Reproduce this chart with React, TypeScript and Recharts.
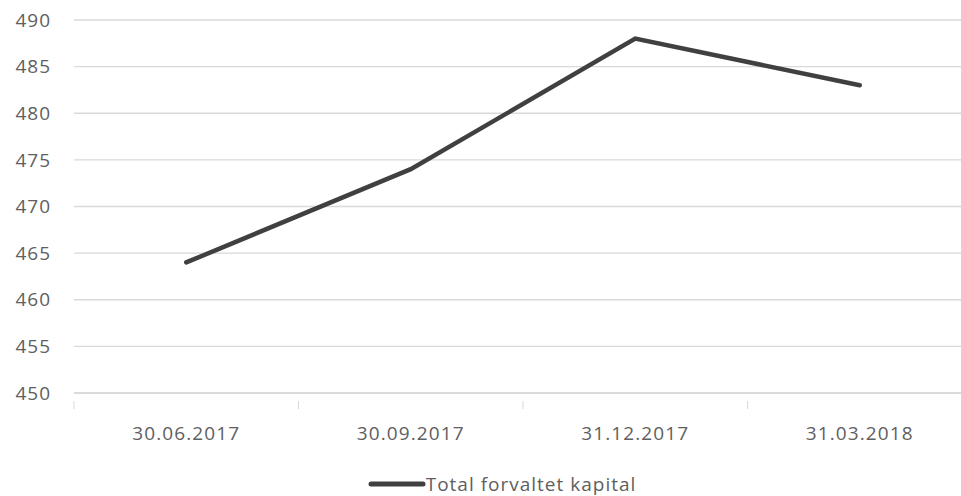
import React from 'react';
import { LineChart, Line, XAxis, YAxis, CartesianGrid, Legend } from 'recharts';

const dates = ['30.06.2017', '30.09.2017', '31.12.2017', '31.03.2018'];
const capital = [464, 474, 488, 483];
const yTicks = [450, 455, 460, 465, 470, 475, 480, 485, 490];

const data = dates.map((d, i) => ({ date: d, value: capital[i] }));

const FONT = '"Open Sans", "Noto Sans", sans-serif';
const TEXT = '#606060';
const GRID = '#d9d9d9';
const PLOT_LEFT = 74;
const PLOT_WIDTH = 898;
const BAND = PLOT_WIDTH / dates.length;

const DateTick = (props: any) => {
  const { x, y, payload, index } = props;
  const left = x - BAND / 2;
  return (
    <g>
      <line x1={left} x2={left} y1={y} y2={y + 8} stroke={GRID} strokeWidth={1} />
      {index === dates.length - 1 && (
        <line x1={left + BAND} x2={left + BAND} y1={y} y2={y + 8} stroke={GRID} strokeWidth={1} />
      )}
      <text x={x} y={y + 32} dy="0.355em" textAnchor="middle" fill={TEXT} fontSize={19} letterSpacing={1.1} fontFamily={FONT}>
        {payload.value}
      </text>
    </g>
  );
};

const LegendBox = () => (
  <div style={{ display: 'flex', justifyContent: 'center', alignItems: 'center', height: 24, fontFamily: FONT, fontSize: 19, letterSpacing: 1, color: TEXT, paddingLeft: 43 }}>
    <svg width={58} height={10}>
      <line x1={3} x2={55} y1={5} y2={5} stroke="#404040" strokeWidth={5} strokeLinecap="round" />
    </svg>
    <span>Total forvaltet kapital</span>
  </div>
);

export default function App() {
  return (
    <div style={{ position: 'absolute', left: 0, top: 0, width: 961, height: 496, overflow: 'hidden', background: '#fff' }}>
      <LineChart width={PLOT_LEFT + PLOT_WIDTH} height={496} data={data} margin={{ top: 20, right: 0, left: 0, bottom: 0 }}>
        <CartesianGrid vertical={false} stroke={GRID} strokeWidth={1.3} />
        <XAxis
          dataKey="date"
          scale="band"
          axisLine={{ stroke: GRID, strokeWidth: 1.3 }}
          tickLine={false}
          tick={<DateTick />}
          height={79}
          interval={0}
        />
        <YAxis
          width={PLOT_LEFT}
          domain={[450, 490]}
          ticks={yTicks}
          axisLine={false}
          tickLine={false}
          tickSize={0}
          tickMargin={23}
          tick={{ fill: TEXT, fontSize: 19, fontFamily: FONT, letterSpacing: 1 }}
        />
        <Legend verticalAlign="bottom" content={<LegendBox />} wrapperStyle={{ left: 0, width: 961, bottom: 0 }} />
        <Line
          type="linear"
          dataKey="value"
          stroke="#404040"
          strokeWidth={4.5}
          dot={false}
          strokeLinecap="round"
          isAnimationActive={false}
        />
      </LineChart>
    </div>
  );
}
